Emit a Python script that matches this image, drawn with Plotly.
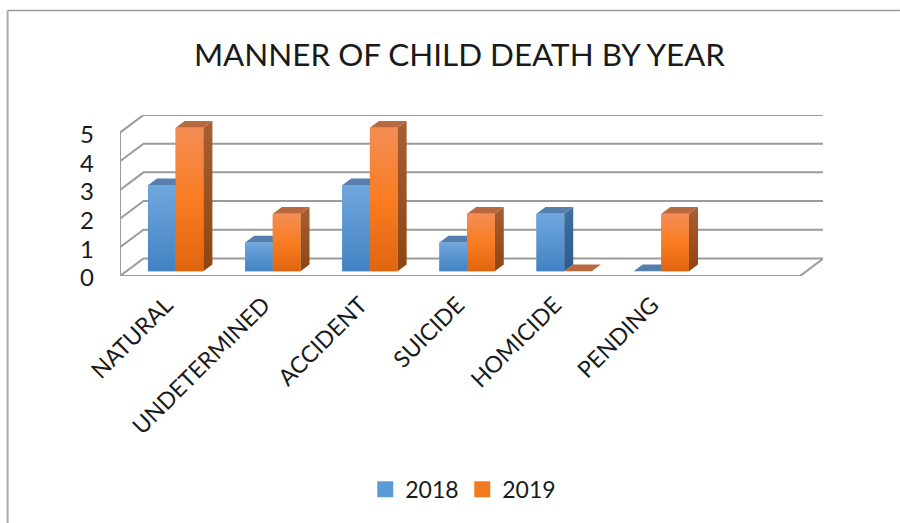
import plotly.graph_objects as go

TITLE = "MANNER OF CHILD DEATH BY YEAR"
CATEGORIES = ["NATURAL", "UNDETERMINED", "ACCIDENT", "SUICIDE", "HOMICIDE", "PENDING"]
YEARS = ["2018", "2019"]
VALUES_2018 = [3, 1, 3, 1, 2, 0]
VALUES_2019 = [5, 2, 5, 2, 0, 2]
Y_TICKS = [0, 1, 2, 3, 4, 5]

W, H = 900, 523
PL, PR, PT, PB = 119.5, 823.0, 114.5, 275.6
UX = 97.2   # px per category
UY = 28.7   # px per unit
X0 = 168.8  # px of the first category on the front plane
FONT = "Lato"
DEPTH_PX = (23.5, 17.6)
BAR_D = (0.272, 0.657)
BAR_W = 0.285
FLOOR_END = 6.494
GRID = "#9b9b9b"

STYLE = {
    "2018": dict(front=["#70a7de", "#4282c3"], top="#5580ad", side=["#42709f", "#2b5b8c"], solid="#5b9bd5", off=-BAR_W),
    "2019": dict(front=["#f48d55", "#f97c22", "#e1650f"], top="#b8693d", side=["#a65f35", "#8f4510"], solid="#f47a20", off=0.0),
}


def px(x, d):
    return x + d * DEPTH_PX[0] / UX


def py(v, d):
    return v + d * DEPTH_PX[1] / UY


def poly(xs, ys, name, color=None, gradient=None):
    kw = dict(x=xs, y=ys, mode="lines", fill="toself", line=dict(width=0), showlegend=False,
              hoverinfo="skip", cliponaxis=False, name=name)
    if gradient:
        n = len(gradient) - 1
        kw["fillgradient"] = dict(type="vertical",
                                  colorscale=[[i / n, c] for i, c in enumerate(reversed(gradient))])
    else:
        kw["fillcolor"] = color
    return go.Scatter(**kw)


fig = go.Figure()

# solid bars underneath the shaded faces
for year, vals in zip(YEARS, [VALUES_2018, VALUES_2019]):
    st = STYLE[year]
    fig.add_bar(x=[px(i, BAR_D[0]) for i in range(len(CATEGORIES))], y=vals,
                base=[py(0, BAR_D[0])] * len(vals), offset=st["off"], width=BAR_W,
                marker=dict(color=st["solid"], line=dict(width=0)), name=year, showlegend=False)

# walls and floor
top = Y_TICKS[-1]
gx, gy = [], []
for t in Y_TICKS:
    gx += [px(-0.507, 0), px(-0.507, 1), px(FLOOR_END, 1), None]
    gy += [py(t, 0), py(t, 1), py(t, 1), None]
gx += [px(-0.507, 0), px(-0.507, 0), None, px(-0.507, 0), px(FLOOR_END, 0), px(FLOOR_END, 1)]
gy += [py(0, 0), py(top, 0), None, py(0, 0), py(0, 0), py(0, 1)]
fig.add_trace(go.Scatter(x=gx, y=gy, mode="lines", line=dict(color=GRID, width=2), showlegend=False,
                         hoverinfo="skip", cliponaxis=False))

# 3D faces
for i in range(len(CATEGORIES)):
    for year, vals in zip(YEARS, [VALUES_2018, VALUES_2019]):
        st = STYLE[year]
        v = vals[i]
        l, r = i + st["off"], i + st["off"] + BAR_W
        d1, d2 = BAR_D
        if v > 0:
            fig.add_trace(poly([px(r, d1), px(r, d2), px(r, d2), px(r, d1), px(r, d1)],
                               [py(0, d1), py(0, d2), py(v, d2), py(v, d1), py(0, d1)],
                               year + " side", gradient=st["side"]))
        fig.add_trace(poly([px(l, d1), px(r, d1), px(r, d2), px(l, d2), px(l, d1)],
                           [py(v, d1), py(v, d1), py(v, d2), py(v, d2), py(v, d1)],
                           year + " top", color=st["top"]))
        if v > 0:
            fig.add_trace(poly([px(l, d1), px(r, d1), px(r, d1), px(l, d1), px(l, d1)],
                               [py(0, d1), py(0, d1), py(v, d1), py(v, d1), py(0, d1)],
                               year + " front", gradient=st["front"]))

# legend entries
for year in YEARS:
    fig.add_trace(go.Scatter(x=[None], y=[None], mode="markers", name=year,
                             marker=dict(symbol="square", size=16, color=STYLE[year]["solid"])))

pw, ph = PR - PL, PB - PT
fig.update_layout(
    width=W, height=H, autosize=False,
    margin=dict(l=PL, r=W - PR, t=PT, b=H - PB, pad=0),
    paper_bgcolor="white", plot_bgcolor="rgba(0,0,0,0)",
    font=dict(family=FONT, color="#1a1a1a"),
    title=dict(text=TITLE, x=459.5 / W, xanchor="center", y=1 - 55 / H, yanchor="middle",
               font=dict(family=FONT, size=31.4, color="#1a1a1a")),
    barmode="overlay",
    xaxis=dict(range=[(PL - X0) / UX, (PR - X0) / UX], tickmode="array", tickvals=list(range(len(CATEGORIES))),
               ticktext=CATEGORIES, tickangle=-45, tickfont=dict(size=23), showgrid=False, zeroline=False,
               showline=False, ticks="", fixedrange=True, ticklabelstandoff=10, ticklabelshift=-3),
    yaxis=dict(range=[0, (PB - PT) / UY], tickmode="array", tickvals=Y_TICKS, ticktext=[str(t) for t in Y_TICKS],
               tickfont=dict(size=24), showgrid=False, zeroline=False, showline=False, ticks="", fixedrange=True,
               ticklabelstandoff=25, ticklabelshift=2),
    legend=dict(orientation="h", x=(462 - PL) / pw, xanchor="center", y=(PB - 489) / ph, yanchor="middle",
                font=dict(size=23), bgcolor="rgba(0,0,0,0)", traceorder="normal", entrywidth=52),
    shapes=[
        dict(type="line", xref="paper", yref="paper", x0=(7 - PL) / pw, x1=(W - PL) / pw,
             y0=(PB - 10) / ph, y1=(PB - 10) / ph, line=dict(color="#9a9a9a", width=1.5)),
        dict(type="line", xref="paper", yref="paper", x0=(7 - PL) / pw, x1=(7 - PL) / pw,
             y0=(PB - 10) / ph, y1=(PB - H) / ph, line=dict(color="#ababab", width=2)),
    ],
)

fig.write_html("out.html", config=dict(displayModeBar=False),
               post_script="document.body.style.margin='0';document.documentElement.style.overflow='hidden';")
